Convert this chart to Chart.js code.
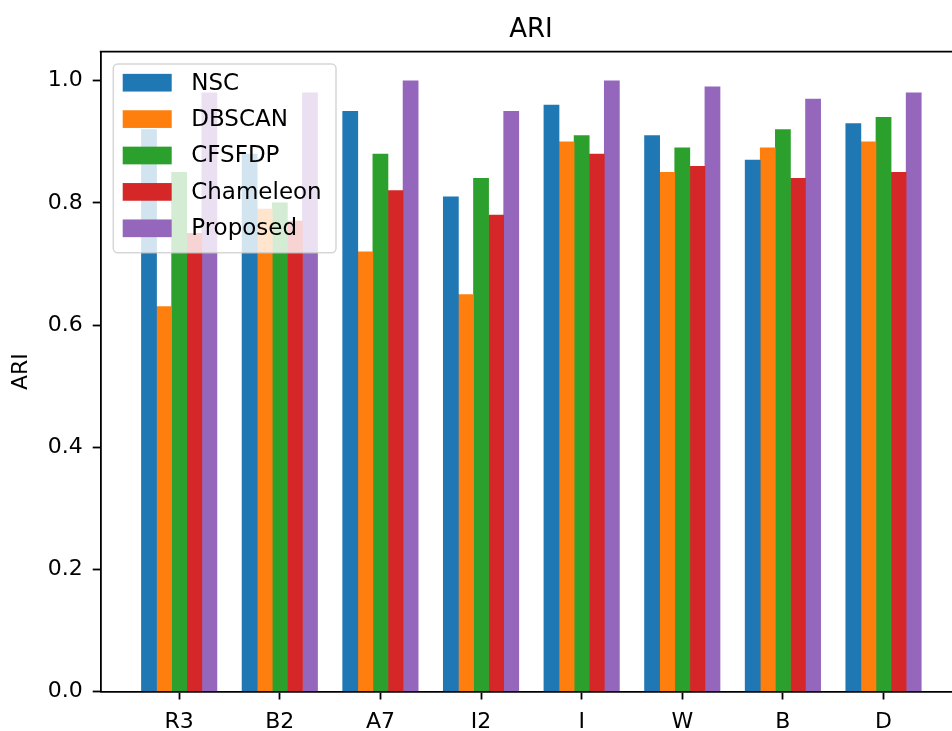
<!DOCTYPE html>
<html>
<head>
<meta charset="utf-8">
<script src="https://cdn.jsdelivr.net/npm/chart.js@4.4.1/dist/chart.umd.min.js"></script>
<style>
  html, body { margin: 0; padding: 0; background: #fff; overflow: hidden; }
  #wrap { width: 1062px; height: 731px; }
</style>
</head>
<body>
<div id="wrap"><canvas id="c" width="1062" height="731"></canvas></div>
<script>
const chartTitle = 'ARI';
const yAxisLabel = 'ARI';
const categories = ['R3', 'B2', 'A7', 'I2', 'I', 'W', 'B', 'D'];
const seriesNames = ['NSC', 'DBSCAN', 'CFSFDP', 'Chameleon', 'Proposed'];
const nscValues       = [0.92, 0.88, 0.95, 0.81, 0.96, 0.91, 0.87, 0.93];
const dbscanValues    = [0.63, 0.79, 0.72, 0.65, 0.90, 0.85, 0.89, 0.90];
const cfsfdpValues    = [0.85, 0.80, 0.88, 0.84, 0.91, 0.89, 0.92, 0.94];
const chameleonValues = [0.75, 0.77, 0.82, 0.78, 0.88, 0.86, 0.84, 0.85];
const proposedValues  = [0.98, 0.98, 1.00, 0.95, 1.00, 0.99, 0.97, 0.98];
const yTickValues = [0.0, 0.2, 0.4, 0.6, 0.8, 1.0];

const seriesValues = [nscValues, dbscanValues, cfsfdpValues, chameleonValues, proposedValues];
const colors = ['#1f77b4', '#ff7f0e', '#2ca02c', '#d62728', '#9467bd'];
const FONT = "'DejaVu Sans', 'Liberation Sans', sans-serif";
const BAR_W = 0.15;
const nSeries = seriesNames.length;

const datasets = seriesNames.map((name, j) => ({
  label: name,
  data: seriesValues[j].map((v, i) => ({ x: i + (j - (nSeries - 1) / 2) * BAR_W, y: v })),
  backgroundColor: colors[j],
  borderWidth: 0,
  grouped: false,
  barThickness: 15.1
}));

const frame = {
  id: 'frame',
  afterDraw(chart) {
    const { ctx, chartArea: a } = chart;
    ctx.save();
    ctx.strokeStyle = '#000';
    ctx.lineWidth = 1.8;
    ctx.beginPath();
    ctx.moveTo(a.left - 0.9, a.top);
    ctx.lineTo(a.right + 0.9, a.top);
    ctx.moveTo(a.right, a.top);
    ctx.lineTo(a.right, a.bottom);
    ctx.stroke();

    // legend
    const bx = a.left + 12.6, by = a.top + 12.3, bw = 222.7, bh = 188.7, r = 4.5;
    ctx.beginPath();
    ctx.moveTo(bx + r, by);
    ctx.lineTo(bx + bw - r, by);
    ctx.arcTo(bx + bw, by, bx + bw, by + r, r);
    ctx.lineTo(bx + bw, by + bh - r);
    ctx.arcTo(bx + bw, by + bh, bx + bw - r, by + bh, r);
    ctx.lineTo(bx + r, by + bh);
    ctx.arcTo(bx, by + bh, bx, by + bh - r, r);
    ctx.lineTo(bx, by + r);
    ctx.arcTo(bx, by, bx + r, by, r);
    ctx.closePath();
    ctx.fillStyle = 'rgba(255,255,255,0.8)';
    ctx.fill();
    ctx.strokeStyle = 'rgba(204,204,204,0.8)';
    ctx.lineWidth = 1.5;
    ctx.stroke();

    ctx.font = '23px ' + FONT;
    ctx.textBaseline = 'middle';
    ctx.textAlign = 'left';
    chart.data.datasets.forEach((ds, k) => {
      const cy = a.top + 31 + k * 36.4;
      ctx.fillStyle = ds.backgroundColor;
      ctx.fillRect(a.left + 22, cy - 8.85, 49, 17.7);
      ctx.fillStyle = '#000';
      ctx.fillText(ds.label, a.left + 90.5, cy + 1);
    });
    ctx.restore();
  }
};

new Chart(document.getElementById('c'), {
  type: 'bar',
  data: { datasets },
  options: {
    responsive: false,
    animation: false,
    devicePixelRatio: 1,
    layout: { padding: 0 },
    plugins: {
      legend: { display: false },
      tooltip: { enabled: false },
      title: {
        display: true,
        text: chartTitle,
        color: '#000',
        font: { family: FONT, size: 26, weight: 'normal', lineHeight: 1.2 },
        padding: { top: 14.4, bottom: 6.1 }
      }
    },
    scales: {
      x: {
        type: 'linear',
        min: -0.78,
        max: 7.78,
        offset: false,
        afterBuildTicks: (s) => { s.ticks = categories.map((_, i) => ({ value: i })); },
        afterFit: (s) => { s.height = 39.5; },
        ticks: {
          autoSkip: false,
          maxRotation: 0,
          padding: 9.3,
          color: '#000',
          font: { family: FONT, size: 22 },
          callback: (v) => categories[v]
        },
        grid: { display: true, offset: false, drawOnChartArea: false, drawTicks: true, tickLength: 8, tickWidth: 1.8, tickColor: '#000' },
        border: { display: true, color: '#000', width: 1.8 }
      },
      y: {
        type: 'linear',
        position: 'left',
        min: 0,
        max: 1.0475,
        afterBuildTicks: (s) => { s.ticks = yTickValues.map(v => ({ value: v })); },
        afterFit: (s) => { s.width = 100.7; },
        ticks: {
          padding: 10,
          color: '#000',
          font: { family: FONT, size: 22 },
          callback: (v) => Number(v).toFixed(1)
        },
        title: {
          display: true,
          text: yAxisLabel,
          color: '#000',
          font: { family: FONT, size: 22 },
          padding: { top: 8, bottom: 0 }
        },
        grid: { display: true, drawOnChartArea: false, drawTicks: true, tickLength: 8, tickWidth: 1.8, tickColor: '#000' },
        border: { display: true, color: '#000', width: 1.8 }
      },
      spacer: {
        type: 'linear',
        position: 'right',
        display: true,
        afterFit: (s) => { s.width = 100; },
        ticks: { display: false },
        grid: { display: false },
        border: { display: false }
      }
    }
  },
  plugins: [frame]
});
</script>
</body>
</html>
